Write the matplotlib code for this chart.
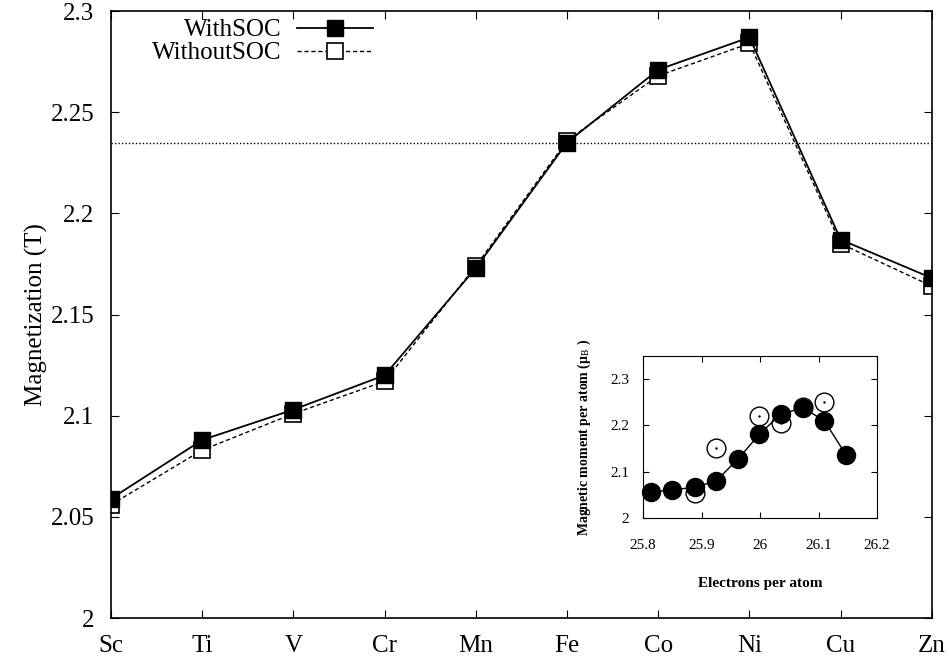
import matplotlib
matplotlib.use("Agg")
import matplotlib.pyplot as plt
import numpy as np

plt.rcParams["font.family"] = ["Liberation Serif", "DejaVu Serif"]
plt.rcParams["mathtext.fontset"] = "stix"

elements = ["Sc", "Ti", "V", "Cr", "Mn", "Fe", "Co", "Ni", "Cu", "Zn"]
with_soc = [2.059, 2.088, 2.103, 2.120, 2.173, 2.235, 2.271, 2.287, 2.187, 2.168]
without_soc = [2.056, 2.083, 2.101, 2.117, 2.174, 2.236, 2.268, 2.284, 2.185, 2.164]
ref_level = 2.235

# inset data (electrons per atom vs magnetic moment)
ins_x = [25.814, 25.850, 25.888, 25.925, 25.962, 25.999, 26.035, 26.073, 26.110, 26.147]
ins_y = [2.056, 2.061, 2.066, 2.080, 2.127, 2.181, 2.224, 2.238, 2.210, 2.136]
ins_open_x = [25.888, 25.925, 25.999, 26.035, 26.073, 26.110]
ins_open_y = [2.055, 2.151, 2.220, 2.205, 2.240, 2.250]

fig = plt.figure(figsize=(9.49, 6.60), dpi=100)
ax = fig.add_axes([0.117, 0.0636, 0.865, 0.9197])
x = np.arange(len(elements))

ax.axhline(ref_level, color="black", ls=(0, (1, 1.5)), lw=1.0, zorder=1)
ax.plot(x, without_soc, color="black", ls=(0, (3, 2)), lw=1.0, marker="s",
        ms=11, mfc="white", mec="black", mew=1.2, label="WithoutSOC", zorder=2)
ax.plot(x, with_soc, color="black", ls="-", lw=1.3, marker="s",
        ms=11, mfc="black", mec="black", label="WithSOC", zorder=3)

ax.set_xlim(0, len(elements) - 1)
ax.set_ylim(2.0, 2.3)
ax.set_xticks(x)
ax.set_xticklabels(elements)
ax.set_yticks([2, 2.05, 2.1, 2.15, 2.2, 2.25, 2.3])
ax.set_yticklabels(["2", "2.05", "2.1", "2.15", "2.2", "2.25", "2.3"])
ax.tick_params(direction="in", top=True, right=True, labelsize=18, length=6)
ax.tick_params(axis="y", pad=12)
ax.tick_params(axis="x", pad=12)
ax.set_ylabel("Magnetization (T)", fontsize=18, labelpad=2)
for s in ax.spines.values():
    s.set_linewidth(1.2)

h, l = ax.get_legend_handles_labels()
ax.legend(h[::-1], l[::-1], loc="upper right", bbox_to_anchor=(0.319, 0.987),
          frameon=False, markerfirst=False, fontsize=18, handlelength=3.05,
          handletextpad=0.6, labelspacing=0.02, borderpad=0, borderaxespad=0)

# inset
ins = fig.add_axes([0.6776, 0.2152, 0.2466, 0.2455])
ins.plot(ins_open_x, ins_open_y, ls="none", marker="o", ms=13.5, mfc="white",
         mec="black", mew=1.0, zorder=2)
ins.plot(ins_open_x, ins_open_y, ls="none", marker=".", ms=1.5, color="black", zorder=2)
ins.plot(ins_x, ins_y, color="black", lw=1.0, marker="o", ms=13, mfc="black",
         mec="black", zorder=3, clip_on=False)
ins.set_xlim(25.8, 26.2)
ins.set_ylim(2.0, 2.35)
ins.set_xticks([25.8, 25.9, 26.0, 26.1, 26.2])
ins.set_xticklabels(["25.8", "25.9", "26", "26.1", "26.2"])
ins.set_yticks([2.0, 2.1, 2.2, 2.3])
ins.set_yticklabels(["2", "2.1", "2.2", "2.3"])
ins.tick_params(direction="in", top=True, right=True, labelsize=11, length=4)
ins.tick_params(axis="x", pad=15)
ins.tick_params(axis="y", pad=10)
ins.set_xlabel("Electrons per atom", fontsize=11, fontweight="bold", labelpad=18)
ins.set_ylabel("Magnetic moment per atom (μ$_{\\rm B}$ )", fontsize=10,
               fontweight="bold", labelpad=12)

fig.savefig("out.png", dpi=100)
